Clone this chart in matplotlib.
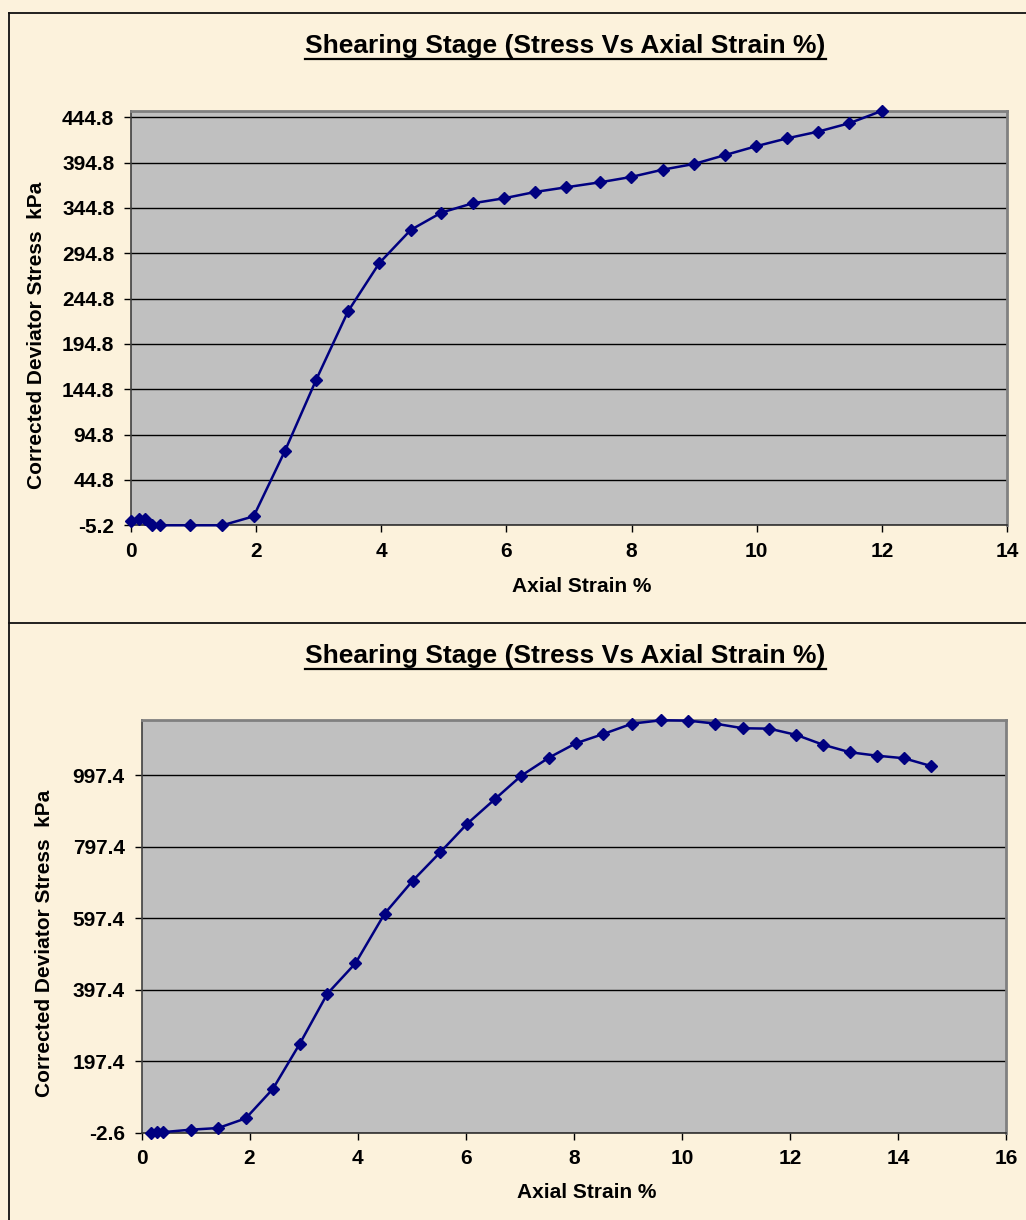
import numpy as np
import matplotlib.pyplot as plt
from matplotlib.lines import Line2D

plt.rcParams['font.family'] = ['Liberation Sans', 'DejaVu Sans']
plt.rcParams['font.weight'] = 'bold'

# top test
top_strain = [0, 0.12, 0.23, 0.34, 0.46, 0.95, 1.46, 1.96, 2.46, 2.96, 3.47, 3.97, 4.47, 4.96,
              5.46, 5.96, 6.46, 6.96, 7.50, 7.99, 8.50, 9.00, 9.50, 9.99, 10.49, 10.98, 11.48, 12.00]
top_stress = [0.0, 1.4, 1.4, -5.2, -5.2, -5.2, -5.2, 4.7, 76.8, 155.4, 230.9, 284.1, 320.5, 339.6,
              349.9, 355.4, 362.4, 367.6, 373.1, 378.9, 387.0, 393.3, 403.2, 412.8, 421.6, 428.9, 438.2, 451.8]

# bottom test
bot_strain = [0.18, 0.29, 0.40, 0.91, 1.42, 1.93, 2.43, 2.93, 3.44, 3.96, 4.50, 5.02, 5.53, 6.03,
              6.55, 7.03, 7.54, 8.04, 8.55, 9.08, 9.62, 10.12, 10.62, 11.13, 11.62, 12.12, 12.61,
              13.11, 13.61, 14.11, 14.61]
bot_stress = [-2.6, -2.0, -1.0, 5.8, 10.5, 37.6, 119.6, 246.4, 386.3, 471.4, 610.3, 702.5, 782.0,
              862.0, 931.9, 996.3, 1046.6, 1086.9, 1113.0, 1141.8, 1151.3, 1150.2, 1141.8, 1128.9,
              1127.8, 1110.2, 1083.0, 1061.8, 1052.2, 1045.0, 1023.4]

title = 'Shearing Stage (Stress Vs Axial Strain %)'
xlabel = 'Axial Strain %'
ylabel = 'Corrected Deviator Stress  kPa'

W, H = 1026, 1220
bg = '#FCF2DC'
fig = plt.figure(figsize=(W / 100, H / 100), dpi=100, facecolor=bg)


def px(x, y):
    # pixel coords (from top-left) -> figure fraction
    return x / W, 1 - y / H


def make_panel(rect, xs, ys, ymin, ymax, ystep, xmax, title_y, xlab_pos, ylab_pos):
    ax = fig.add_axes(rect)
    ax.set_facecolor('#C0C0C0')
    ax.plot(xs, ys, color='#000080', lw=1.8, marker='D', ms=6.2, zorder=3, clip_on=False)
    ax.set_xlim(0, xmax)
    ax.set_ylim(ymin, ymax)
    ax.set_xticks(np.arange(0, xmax + 1, 2))
    yt = np.arange(ymin, ymax, ystep)
    ax.set_yticks(yt)
    ax.set_yticklabels([f'{v:.1f}' for v in yt])
    ax.yaxis.grid(True, color='black', lw=1.0)
    ax.set_axisbelow(True)
    ax.tick_params(axis='both', direction='out', length=5, width=1, color='black',
                   labelsize=15, pad=7)
    for lab in ax.get_xticklabels() + ax.get_yticklabels():
        lab.set_fontweight('bold')
    for s in ['top', 'right']:
        ax.spines[s].set_color('#808080')
        ax.spines[s].set_linewidth(2)
    ax.spines['left'].set_color('#404040')
    ax.spines['bottom'].set_color('#303030')
    ax.spines['left'].set_linewidth(1.2)
    ax.spines['bottom'].set_linewidth(1.2)

    tx, ty = px(565.5, title_y)
    t = fig.text(tx, ty, title, ha='center', va='baseline', fontsize=19, fontweight='bold')
    fig.text(*px(*xlab_pos), xlabel, ha='center', va='center', fontsize=15, fontweight='bold')
    fig.text(*px(*ylab_pos), ylabel, ha='center', va='center', rotation=90,
             fontsize=15, fontweight='bold')
    return ax, t


ax1, t1 = make_panel([131 / W, 1 - 525.3 / H, 876 / W, 414.6 / H],
                     top_strain, top_stress, -5.2, 452, 50, 14,
                     53.3, (582, 586), (37, 335))
ax2, t2 = make_panel([141.5 / W, 1 - 1132.7 / H, 864.5 / W, 412.7 / H],
                     bot_strain, bot_stress, -2.6, 1152, 200, 16,
                     663.3, (587, 1193), (45, 943))

# underline titles
fig.canvas.draw()
r = fig.canvas.get_renderer()
for t, uy in [(t1, 59.3), (t2, 669)]:
    bb = t.get_window_extent(renderer=r)
    x0, x1 = bb.x0 / W, bb.x1 / W
    y = 1 - uy / H
    fig.add_artist(Line2D([x0, x1], [y, y], color='black', lw=1.6))

# panel borders
bc = '#111111'
fig.add_artist(Line2D([9.3 / W, 1], [1 - 13.3 / H] * 2, color=bc, lw=1.3))
fig.add_artist(Line2D([9.3 / W] * 2, [0, 1 - 13.3 / H], color=bc, lw=1.3))
fig.add_artist(Line2D([9.3 / W, 1], [1 - 623 / H] * 2, color=bc, lw=1.3))

plt.savefig('out.png', dpi=100, facecolor=bg)
